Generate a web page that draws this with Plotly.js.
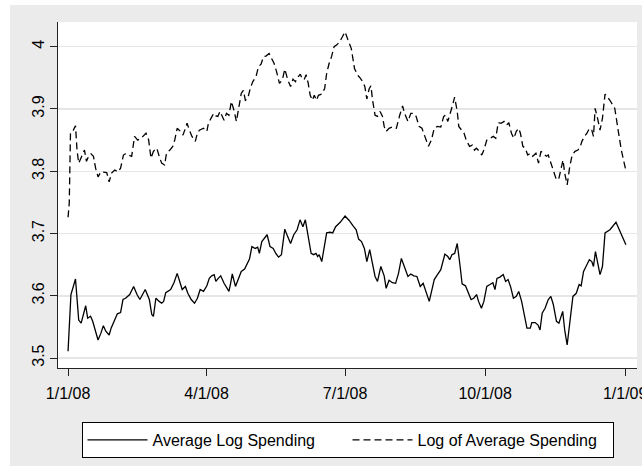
<!DOCTYPE html>
<html>
<head>
<meta charset="utf-8">
<script src="https://cdn.plot.ly/plotly-3.0.1.min.js"></script>
<style>html,body{margin:0;padding:0;background:#fff;}#chart{width:642px;height:470px;}</style>
</head>
<body>
<div id="chart"></div>
<script>
// Days since 1 Jan 2008 and values
var daysAvgLog = [0,1.9,4.9,7.0,8.6,11.6,12.9,14.8,16.2,17.5,19.7,21.6,23.2,24.8,27.0,28.3,30.2,32.4,34.5,36.1,37.8,40.5,43.1,45.3,47.2,50.7,53.4,55.0,56.1,57.7,59.9,61.5,62.8,64.2,67.4,69.6,71.7,73.9,75.0,77.1,78.7,80.9,83.1,85.0,86.8,89.0,91.2,92.8,94.4,96.0,97.1,98.7,100.3,102.5,104.6,105.7,106.8,107.9,110.0,111.9,113.8,116.0,117.6,119.2,120.8,123.0,124.6,125.7,127.3,129.4,130.8,132.7,134.8,136.5,138.3,140.2,142.4,144.3,146.2,148.3,150.5,152.4,154.3,155.9,157.8,159.7,161.3,162.9,164.0,165.0,166.7,168.0,169.9,172.1,173.9,175.8,178.8,182.0,184.7,187.4,189.3,190.9,192.8,194.7,196.3,198.2,200.1,201.7,203.3,205.5,207.7,209.0,210.9,213.1,215.2,217.1,219.0,221.1,223.3,225.2,227.1,229.2,231.4,233.3,235.2,237.3,239.2,240.6,242.7,244.9,247.6,249.5,250.8,252.2,254.0,255.7,257.6,258.9,261.1,262.9,264.8,266.5,268.4,269.7,271.6,273.2,275.1,277.2,279.1,280.5,281.8,283.7,285.9,287.5,289.1,290.7,292.6,294.5,296.1,298.0,299.9,301.5,303.7,304.7,306.9,308.8,310.1,311.5,313.4,315.5,317.2,318.8,320.9,322.5,325.0,326.3,327.9,329.6,331.7,333.9,335.8,337.1,338.7,340.3,342.5,344.1,345.2,346.5,348.4,349.5,351.1,352.8,356.0,360.0,366.5];
var avgLogSpending = [3.511,3.602,3.627,3.561,3.556,3.584,3.564,3.567,3.559,3.548,3.529,3.540,3.552,3.543,3.537,3.548,3.559,3.571,3.573,3.594,3.596,3.602,3.615,3.602,3.594,3.610,3.594,3.570,3.567,3.596,3.591,3.588,3.591,3.605,3.610,3.621,3.636,3.618,3.610,3.615,3.604,3.594,3.588,3.596,3.610,3.607,3.616,3.628,3.632,3.634,3.623,3.628,3.632,3.620,3.610,3.607,3.620,3.635,3.615,3.626,3.639,3.643,3.650,3.659,3.679,3.676,3.678,3.668,3.687,3.693,3.698,3.679,3.676,3.668,3.662,3.666,3.707,3.695,3.684,3.698,3.706,3.722,3.711,3.722,3.695,3.668,3.666,3.668,3.663,3.666,3.655,3.674,3.701,3.702,3.701,3.711,3.718,3.728,3.721,3.712,3.706,3.691,3.687,3.676,3.655,3.674,3.652,3.631,3.623,3.647,3.632,3.612,3.625,3.621,3.620,3.636,3.660,3.647,3.631,3.635,3.632,3.631,3.615,3.620,3.607,3.591,3.611,3.626,3.634,3.642,3.667,3.663,3.658,3.666,3.668,3.684,3.647,3.619,3.616,3.604,3.594,3.596,3.602,3.591,3.580,3.591,3.615,3.618,3.621,3.610,3.628,3.630,3.634,3.623,3.626,3.615,3.596,3.599,3.607,3.591,3.567,3.548,3.548,3.557,3.557,3.553,3.545,3.572,3.580,3.594,3.599,3.586,3.559,3.556,3.575,3.545,3.521,3.561,3.599,3.604,3.618,3.616,3.639,3.647,3.658,3.655,3.647,3.671,3.648,3.634,3.647,3.701,3.706,3.718,3.682];

var daysLogAvg = [0.0,0.8,1.6,3.5,4.9,5.9,7.0,8.9,10.8,12.1,13.5,15.1,16.7,18.1,19.7,21.6,23.2,25.4,27.0,28.6,30.7,32.9,34.5,36.4,37.8,39.9,41.8,43.7,45.8,48.0,49.9,51.2,52.9,54.5,56.1,58.3,59.9,61.5,63.4,64.7,66.9,68.8,70.1,71.7,73.9,75.5,77.1,78.2,79.6,81.4,83.6,85.0,86.3,89.0,91.2,92.2,93.9,95.7,97.1,98.4,99.8,101.1,102.5,104.1,105.7,107.3,109.0,110.6,111.9,113.8,115.2,116.5,118.1,119.7,121.4,123.5,125.1,126.8,128.4,130.0,132.1,133.8,135.4,137.0,138.9,140.8,142.4,144.3,146.2,147.8,149.4,151.0,152.6,153.7,155.1,156.4,157.8,159.1,160.5,161.8,163.2,164.5,166.7,168.6,169.9,171.5,173.1,174.8,176.6,178.5,180.7,182.0,183.9,186.1,188.2,190.1,191.5,193.6,195.0,196.3,197.9,199.0,200.1,201.7,203.3,205.0,206.6,207.7,209.0,210.9,213.1,215.7,217.9,219.8,221.1,223.3,225.2,227.1,228.7,230.6,232.5,234.6,236.8,238.7,240.6,242.7,244.9,246.8,248.1,249.5,250.8,252.4,254.0,255.7,256.7,258.4,260.2,261.6,263.8,265.6,267.0,268.3,270.2,271.8,273.2,275.1,277.2,279.4,281.0,282.6,284.5,286.4,288.0,289.6,291.3,292.9,294.5,296.1,297.2,298.8,300.4,302.0,303.7,305.3,307.4,309.1,310.7,312.3,314.2,315.5,317.7,319.6,320.9,322.5,324.2,325.2,326.3,327.9,329.6,331.2,333.1,335.0,336.6,337.6,339.3,340.9,342.5,344.1,345.2,346.3,347.9,349.5,351.1,352.8,356.0,359.2,361.4,363.5,366.5];
var logAvgSpending = [3.726,3.749,3.862,3.866,3.873,3.834,3.813,3.824,3.834,3.816,3.824,3.828,3.824,3.805,3.791,3.799,3.799,3.798,3.783,3.797,3.802,3.799,3.805,3.826,3.828,3.826,3.824,3.856,3.850,3.853,3.858,3.861,3.851,3.821,3.832,3.837,3.824,3.813,3.810,3.829,3.834,3.840,3.850,3.869,3.864,3.858,3.869,3.877,3.867,3.856,3.848,3.861,3.866,3.869,3.864,3.877,3.885,3.893,3.889,3.888,3.896,3.890,3.882,3.893,3.890,3.912,3.898,3.880,3.898,3.925,3.930,3.914,3.917,3.933,3.944,3.952,3.968,3.972,3.984,3.985,3.989,3.981,3.973,3.960,3.941,3.947,3.964,3.947,3.936,3.948,3.944,3.951,3.956,3.949,3.947,3.955,3.941,3.922,3.914,3.922,3.914,3.922,3.924,3.933,3.957,3.973,3.984,4.000,4.003,4.008,4.017,4.024,4.011,3.997,3.965,3.955,3.951,3.944,3.936,3.916,3.933,3.937,3.914,3.890,3.888,3.896,3.888,3.872,3.864,3.869,3.871,3.869,3.890,3.905,3.893,3.880,3.893,3.893,3.888,3.872,3.869,3.856,3.840,3.850,3.869,3.872,3.871,3.888,3.890,3.880,3.890,3.904,3.919,3.896,3.872,3.866,3.861,3.850,3.840,3.842,3.834,3.837,3.832,3.826,3.834,3.850,3.853,3.856,3.853,3.878,3.877,3.880,3.874,3.878,3.861,3.853,3.864,3.869,3.861,3.840,3.837,3.826,3.829,3.824,3.829,3.813,3.832,3.829,3.824,3.826,3.810,3.799,3.786,3.789,3.805,3.818,3.797,3.778,3.807,3.826,3.832,3.834,3.840,3.848,3.856,3.861,3.869,3.866,3.856,3.901,3.885,3.866,3.885,3.924,3.914,3.901,3.866,3.834,3.801];

var seriesNames = ['Average Log Spending', 'Log of Average Spending'];
var tickDates = ['2008-01-01', '2008-04-01', '2008-07-01', '2008-10-01', '2009-01-01'];
var tickLabels = ['1/1/08', '4/1/08', '7/1/08', '10/1/08', '1/1/09'];
var yTicks = [3.5, 3.6, 3.7, 3.8, 3.9, 4];

function toDate(d) {
  var t = Date.UTC(2008, 0, 1) + d * 86400000;
  return new Date(t).toISOString().slice(0, 19).replace('T', ' ');
}

var font = 'Liberation Sans, Arial, Helvetica, sans-serif';

var traces = [
  {x: daysAvgLog.map(toDate), y: avgLogSpending, name: seriesNames[0], type: 'scatter', mode: 'lines',
   line: {color: '#000', width: 1.3}},
  {x: daysLogAvg.map(toDate), y: logAvgSpending, name: seriesNames[1], type: 'scatter', mode: 'lines',
   line: {color: '#000', width: 1.3, dash: '7px,4px'}}
];

var layout = {
  width: 642, height: 470,
  margin: {l: 58, r: 5, t: 22, b: 102},
  paper_bgcolor: '#ebebeb',
  plot_bgcolor: '#ffffff',
  font: {family: font, size: 16, color: '#000'},
  showlegend: true,
  xaxis: {
    type: 'date',
    range: [toDate(-6.6), toDate(373.8)],
    tickmode: 'array', tickvals: tickDates, ticktext: tickLabels,
    ticklabeloverflow: 'allow',
    showgrid: false, zeroline: false,
    showline: true, linecolor: '#222', linewidth: 1,
    ticks: 'outside', ticklen: 7, tickcolor: '#222', tickwidth: 1,
    ticklabelstandoff: 4,
    tickfont: {family: font, size: 16, color: '#000'},
    fixedrange: true
  },
  yaxis: {
    range: [3.484, 4.0397],
    tickmode: 'array', tickvals: yTicks,
    tickangle: -90,
    showgrid: true, gridcolor: '#e6e6e6', gridwidth: 1.5,
    zeroline: false,
    showline: true, linecolor: '#222', linewidth: 1,
    ticks: 'outside', ticklen: 7, tickcolor: '#222', tickwidth: 1,
    tickfont: {family: font, size: 16, color: '#000'},
    fixedrange: true
  },
  legend: {
    orientation: 'h', x: 0.5, xanchor: 'center', y: -0.156, yanchor: 'top',
    bgcolor: '#ffffff', bordercolor: '#000', borderwidth: 1,
    font: {family: font, size: 16, color: '#000'},
    itemwidth: 60, entrywidth: 190, traceorder: 'normal'
  },
  shapes: [
    {type: 'rect', xref: 'paper', yref: 'paper', x0: -0.1002, x1: -0.0829, y0: -0.2948, y1: 1.0636, fillcolor: '#ffffff', line: {width: 0}, layer: 'below'},
    {type: 'rect', xref: 'paper', yref: 'paper', x0: -0.1002, x1: 1.01, y0: 1.0491, y1: 1.0636, fillcolor: '#ffffff', line: {width: 0}, layer: 'below'},
    {type: 'rect', xref: 'paper', yref: 'paper', x0: -0.1002, x1: 1.01, y0: -0.2948, y1: -0.2832, fillcolor: '#ffffff', line: {width: 0}, layer: 'below'}
  ]
};

Plotly.newPlot('chart', traces, layout, {displayModeBar: false, staticPlot: true});
</script>
</body>
</html>
